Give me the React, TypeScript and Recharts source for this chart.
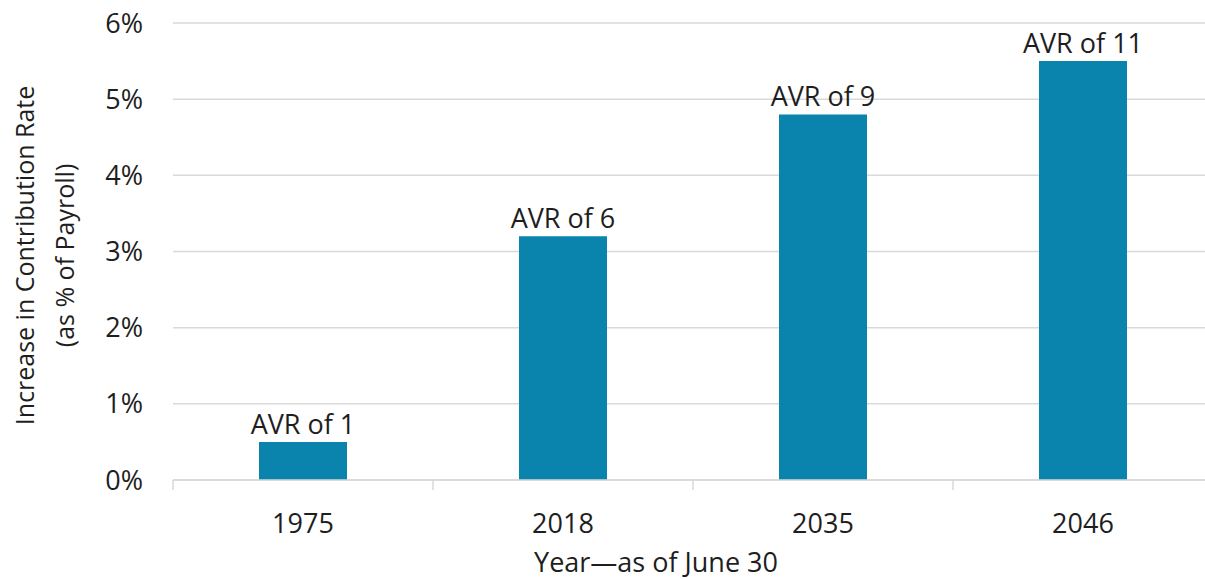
import { BarChart, Bar, XAxis, YAxis, CartesianGrid, LabelList } from 'recharts';

const CATEGORIES = ['1975', '2018', '2035', '2046'];
const VALUES = [0.5, 3.2, 4.8, 5.5];
const BAR_LABELS = ['AVR of 1', 'AVR of 6', 'AVR of 9', 'AVR of 11'];
const Y_TICKS = [0, 1, 2, 3, 4, 5, 6];

const data = CATEGORIES.map((year, i) => ({ year, value: VALUES[i], label: BAR_LABELS[i] }));

const FONT = '"Open Sans", "Noto Sans", sans-serif';
const TEXT = '#1e1e1e';
const GRID = '#d9d9d9';
const BAR = '#0a84ac';

function YearTick(props: any) {
  const { x, y, payload } = props;
  const off = payload?.offset ?? 130;
  return (
    <g>
      <line x1={x - off} x2={x - off} y1={y - 8} y2={y + 2} stroke={GRID} strokeWidth={1.5} />
      <text x={x} y={y + 34} textAnchor="middle" dominantBaseline="central" fill={TEXT} fontSize={27} fontFamily={FONT}>
        {payload.value}
      </text>
    </g>
  );
}

function YTitle(props: any) {
  const vb = props.viewBox || { x: 0, y: 23, width: 173, height: 457 };
  const cy = vb.y + vb.height / 2 + 4;
  return (
    <g fill={TEXT} fontSize={25} fontFamily={FONT}>
      <text x={24} y={cy} textAnchor="middle" dominantBaseline="central" transform={`rotate(-90, 24, ${cy})`}>
        Increase in Contribution Rate
      </text>
      <text x={64} y={cy} textAnchor="middle" dominantBaseline="central" transform={`rotate(-90, 64, ${cy})`}>
        (as % of Payroll)
      </text>
    </g>
  );
}

function XTitle(props: any) {
  const vb = props.viewBox || { x: 173, y: 480, width: 1040, height: 99 };
  return (
    <text x={vb.x + vb.width / 2 - 37} y={vb.y + 81} textAnchor="middle" dominantBaseline="central" fill={TEXT} fontSize={27} fontFamily={FONT}>
      Year—as of June 30
    </text>
  );
}

function BarLabel(props: any) {
  const { x, y, width, value } = props;
  return (
    <text x={x + width / 2} y={y - 8} textAnchor="middle" fill={TEXT} fontSize={27} fontFamily={FONT}>
      {value}
    </text>
  );
}

export default function App() {
  return (
    <div style={{ position: 'fixed', left: 0, top: 0, width: 1205, height: 579, overflow: 'hidden', background: '#fff' }}>
      <BarChart width={1215} height={579} data={data} margin={{ top: 23, right: 2, left: 0, bottom: 0 }}>
        <CartesianGrid vertical={false} stroke={GRID} strokeWidth={1.5} />
        <XAxis
          dataKey="year"
          height={99}
          axisLine={{ stroke: GRID, strokeWidth: 1.5 }}
          tickLine={false}
          tick={<YearTick />}
          label={<XTitle />}
        />
        <YAxis
          width={173}
          domain={[0, 6]}
          ticks={Y_TICKS}
          tickFormatter={(v: number) => `${v}%`}
          axisLine={false}
          tickLine={false}
          tickMargin={24}
          tick={{ fill: TEXT, fontSize: 27, fontFamily: FONT }}
          label={<YTitle />}
        />
        <Bar dataKey="value" fill={BAR} barSize={88} isAnimationActive={false}>
          <LabelList dataKey="label" content={<BarLabel />} />
        </Bar>
      </BarChart>
    </div>
  );
}
